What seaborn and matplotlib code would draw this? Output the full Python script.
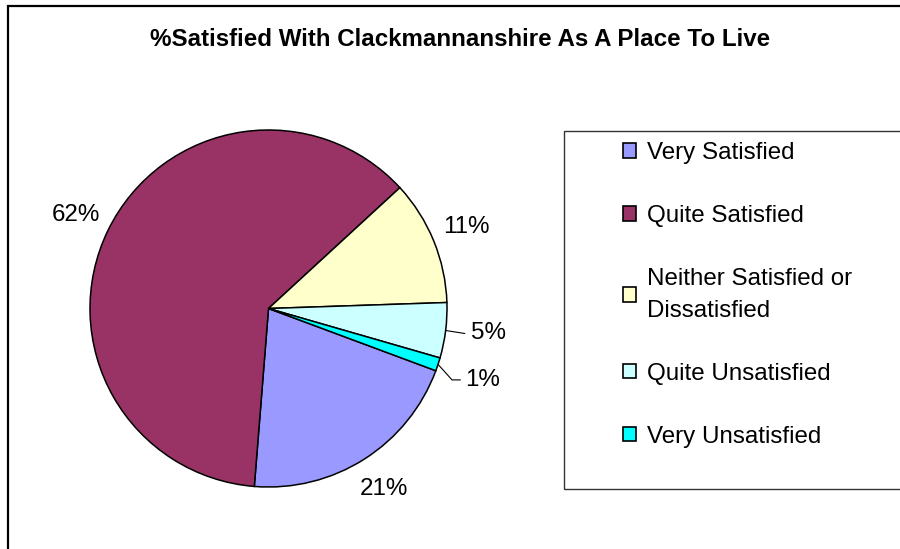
import matplotlib
matplotlib.use('Agg')
import matplotlib.pyplot as plt
import seaborn as sns
from matplotlib.patches import Patch, Rectangle
import numpy as np

# dane (%)
categories = ['Very Satisfied', 'Quite Satisfied', 'Neither Satisfied or\nDissatisfied',
              'Quite Unsatisfied', 'Very Unsatisfied']
values = [20.6, 61.9, 11.3, 5.0, 1.2]
colors = ['#9999FF', '#993366', '#FFFFCC', '#CCFFFF', '#00FFFF']
title = '%Satisfied With Clackmannanshire As A Place To Live'

sns.set_theme(style='white', rc={'text.color': 'black'})
plt.rcParams['font.family'] = ['Liberation Sans', 'DejaVu Sans']

fig = plt.figure(figsize=(9, 5.49), dpi=100)
fig.patch.set_facecolor('white')

# ramka calego wykresu (przycieta z prawej i z dolu)
fig.patches.append(Rectangle((7.5/900, -0.1), 1.0, 1 - 6/549 + 0.1, transform=fig.transFigure,
                             fill=False, edgecolor='black', linewidth=1.6))

fig.text(460/900, 1 - 40/549, title, ha='center', va='center', fontsize=17.4, fontweight='bold',
         color='black')

ax = fig.add_axes([90/900, 62/549, 357/900, 357/549])
palette = sns.color_palette(colors)
wedges, texts, autotexts = ax.pie(values, colors=palette, startangle=-20.4, counterclock=False,
                                  autopct=lambda p: f'{p:.0f}%', pctdistance=1.2,
                                  wedgeprops={'edgecolor': 'black', 'linewidth': 1.1},
                                  textprops={'fontsize': 17.4, 'color': 'black'})
ax.set_xlim(-1, 1)
ax.set_ylim(-1, 1)

#etykiety malych wycinkow z liniami
for i, (tx, ty), (lx, ly) in [(3, (1.135, -0.14), (1.10, -0.14)), (4, (1.10, -0.40), (1.075, -0.40))]:
    w = wedges[i]
    ang = np.deg2rad((w.theta1 + w.theta2) / 2)
    autotexts[i].set_position((tx, ty))
    autotexts[i].set_ha('left')
    if i == 3:
        ax.annotate('', xy=(np.cos(ang), np.sin(ang)), xytext=(lx, ly),
                    arrowprops=dict(arrowstyle='-', color='black', lw=0.8, shrinkA=0, shrinkB=0))
    else:
        ax.annotate('', xy=(np.cos(ang), np.sin(ang)), xytext=(lx, ly),
                    arrowprops=dict(arrowstyle='-', color='black', lw=0.8, shrinkA=0, shrinkB=0,
                                    connectionstyle='angle,angleA=0,angleB=-48,rad=0'))

# legenda
fig.patches.append(Rectangle((564/900, 1 - 489/549), 0.5, (489 - 131)/549, transform=fig.transFigure,
                             fill=False, edgecolor='#333333', linewidth=1.0))
handles = [Patch(facecolor=c, edgecolor='black', linewidth=1.2) for c in colors]
leg = fig.legend(handles, categories, loc='upper left', bbox_to_anchor=(623/900, 1 - 142/549),
                 bbox_transform=fig.transFigure, frameon=False, fontsize=17.4, borderpad=0,
                 borderaxespad=0, handlelength=0.55, handleheight=0.55, handletextpad=0.45,
                 labelspacing=1.69)
for t in leg.get_texts():
    t.set_linespacing(1.6)
    t.set_color('black')

fig.savefig('out.png', dpi=100, facecolor='white')
